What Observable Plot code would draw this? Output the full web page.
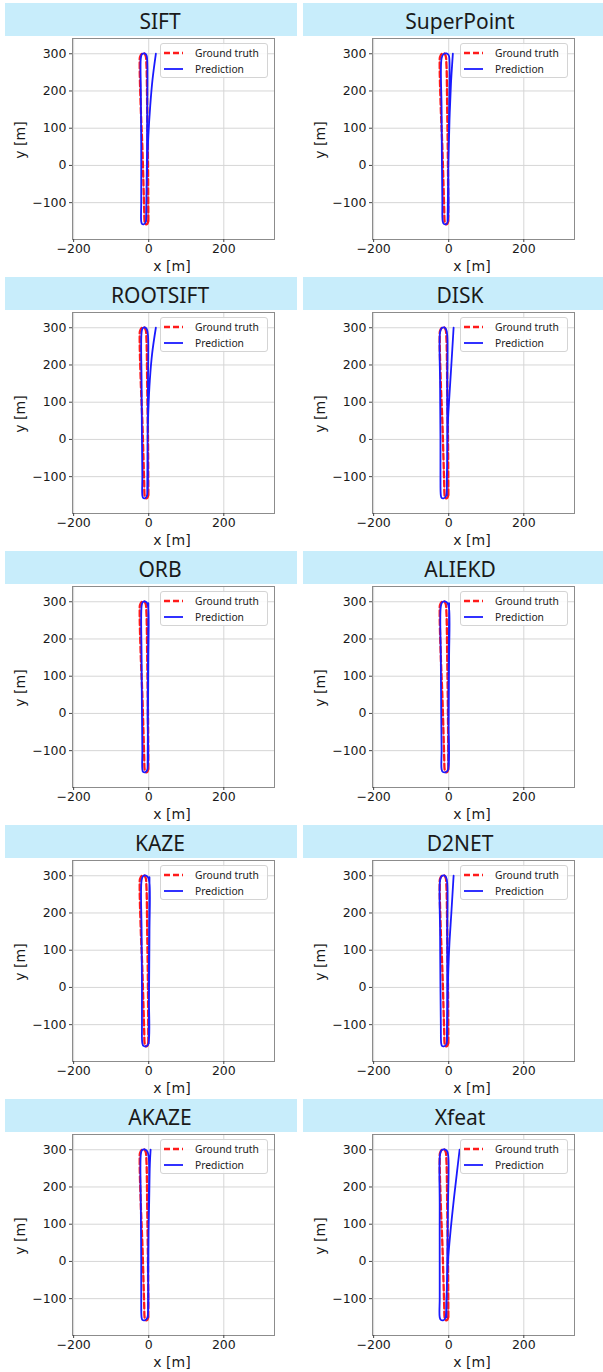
<!DOCTYPE html>
<html>
<head>
<meta charset="utf-8">
<script src="https://cdn.jsdelivr.net/npm/d3@7"></script>
<script src="https://cdn.jsdelivr.net/npm/@observablehq/plot@0.6"></script>
<style>
  html, body { margin: 0; padding: 0; background: #fff; }
  #root { position: relative; width: 603px; height: 1372px; overflow: hidden; background: #fff; }
  .band { position: absolute; height: 33px; background: #c8edfb; }
  .title { position: absolute; width: 240px; text-align: center; font-family: "Noto Sans", "Noto Sans CJK KR", sans-serif; font-size: 21px; color: #1a1a1a; line-height: 1; }
  .plotwrap { position: absolute; }
  .xlab, .ylab { position: absolute; font-family: "DejaVu Sans", sans-serif; font-size: 14px; color: #1a1a1a; line-height: 1; white-space: nowrap; }
  .legend { position: absolute; width: 106px; height: 33px; border: 1px solid #d4d4d4; border-radius: 3px; background: rgba(255,255,255,0.85); font-family: "Noto Sans", "Noto Sans CJK KR", sans-serif; font-size: 10.3px; color: #222; }
  .legend .row { position: absolute; left: 3px; height: 12px; display: flex; align-items: center; white-space: nowrap; }
  .legend .row svg { margin-right: 12px; }
</style>
</head>
<body>
<div id="root"></div>
<script>
// ---- data ----
const methods = ["SIFT", "SuperPoint", "ROOTSIFT", "DISK", "ORB", "ALIEKD", "KAZE", "D2NET", "AKAZE", "Xfeat"];
const xTicks = [-200, 0, 200];
const yTicks = [-100, 0, 100, 200, 300];

// ground truth trajectory (same for every method)
const gtX = [-1, -2, -4, -6, -8, -12, -18, -23, -24, -21, -17, -14, -12, -11, -9, -5, -2, -1];
const gtY = [-150, 0, 150, 270, 294, 301, 300, 292, 270, 150, 50, -50, -120, -150, -157, -158, -153, -140];

// predictions
const siftX = [-7, -5, -4, -4, -6, -11, -18, -21, -21, -20, -20, -20, -18, -13, -8, -6, -4, -1, 4, 10, 19];
const siftY = [-150, 0, 150, 280, 296, 301, 299, 288, 200, 50, -100, -150, -157, -158, -152, -100, 0, 80, 160, 230, 300];

const superpointX = [-3, -1, 1, 2, 0, -6, -14, -19, -19, -18, -17, -16, -13, -7, -3, -1, 2, 6, 9, 11];
const superpointY = [-150, 0, 150, 280, 296, 301, 299, 288, 150, 0, -100, -150, -157, -158, -152, 0, 120, 220, 270, 300];

const rootsiftX = [-4, -3, -2, -2, -5, -10, -16, -19, -19, -18, -17, -17, -15, -10, -5, -3, -1, 3, 9, 19];
const rootsiftY = [-150, 0, 150, 280, 296, 301, 299, 288, 150, 0, -100, -150, -157, -158, -152, 0, 80, 160, 230, 300];

const diskX = [-5, -4, -4, -4, -7, -12, -19, -23, -23, -22, -22, -21, -19, -13, -7, -5, -4, -2, 2, 7, 13];
const diskY = [-150, 0, 150, 280, 296, 301, 299, 288, 150, 0, -100, -150, -157, -158, -152, -100, -50, 50, 120, 200, 300];

const orbX = [-3, -2, -1, -1, -4, -10, -16, -19, -19, -18, -17, -17, -15, -9, -4, -3, -2, -1, -1];
const orbY = [-150, 0, 150, 280, 296, 301, 299, 288, 150, 0, -100, -150, -157, -158, -152, 0, 150, 280, 296];

const aliekdX = [-1, 0, 1, 1, -3, -10, -17, -21, -21, -20, -19, -19, -16, -8, -2, -1, 0, 1, 1];
const aliekdY = [-150, 0, 150, 280, 296, 301, 299, 288, 150, 0, -100, -150, -157, -158, -152, 0, 150, 280, 296];

const kazeX = [0, 1, 2, 2, -2, -9, -15, -19, -19, -18, -18, -17, -14, -6, -1, 0, 1, 2, 2];
const kazeY = [-150, 0, 150, 280, 296, 301, 299, 288, 150, 0, -100, -150, -157, -158, -152, 0, 150, 280, 296];

const d2netX = [-5, -4, -4, -4, -7, -12, -19, -23, -23, -22, -21, -20, -18, -12, -6, -4, -3, -1, 2, 7, 13];
const d2netY = [-150, 0, 150, 280, 296, 301, 299, 288, 150, 0, -100, -150, -157, -158, -152, -100, -50, 50, 120, 200, 300];

const akazeX = [-2, -1, 0, 0, -4, -11, -18, -21, -21, -20, -20, -19, -17, -10, -4, -2, 1, 3, 5];
const akazeY = [-150, 0, 150, 280, 296, 301, 299, 288, 150, 0, -100, -150, -157, -158, -152, 0, 150, 260, 300];

const xfeatX = [-6, -4, -2, -1, -4, -11, -19, -23, -24, -24, -24, -24, -21, -14, -9, -6, -2, 5, 14, 22, 29];
const xfeatY = [-150, 0, 150, 280, 296, 301, 299, 288, 150, 0, -100, -150, -157, -158, -152, -100, 0, 83, 170, 240, 300];

const predX = [siftX, superpointX, rootsiftX, diskX, orbX, aliekdX, kazeX, d2netX, akazeX, xfeatX];
const predY = [siftY, superpointY, rootsiftY, diskY, orbY, aliekdY, kazeY, d2netY, akazeY, xfeatY];

// ---- drawing ----
const root = document.getElementById("root");
const ROW = 274;
const gt = gtX.map((x, i) => ({x, y: gtY[i]}));

function el(cls, css, html) {
  const d = document.createElement("div");
  d.className = cls;
  Object.assign(d.style, css);
  if (html != null) d.innerHTML = html;
  root.appendChild(d);
  return d;
}

methods.forEach((name, k) => {
  const col = k % 2, row = Math.floor(k / 2);
  const left = col * 300, top = row * ROW;

  el("band", {left: (col === 0 ? 5 : 303) + "px", top: (top + 3) + "px", width: (col === 0 ? 292 : 300) + "px"});
  el("title", {left: (left + 40) + "px", top: (top + 11) + "px"}, name);

  const pred = predX[k].map((x, i) => ({x, y: predY[k][i]}));
  const chart = Plot.plot({
    width: 300, height: 240,
    marginLeft: 72, marginRight: 26, marginTop: 1, marginBottom: 38,
    style: {fontFamily: "DejaVu Sans", fontSize: "12.5px", color: "#1a1a1a", background: "transparent", overflow: "visible"},
    x: {domain: [-203, 335]},
    y: {domain: [-199, 341]},
    marks: [
      Plot.gridX(xTicks, {stroke: "#d6d6d6", strokeOpacity: 1}),
      Plot.gridY(yTicks, {stroke: "#d6d6d6", strokeOpacity: 1}),
      Plot.line(gt, {x: "x", y: "y", stroke: "#ff1a1a", strokeWidth: 2.3, strokeDasharray: "6,3", curve: "catmull-rom"}),
      Plot.line(pred, {x: "x", y: "y", stroke: "#1a1aff", strokeWidth: 1.8, curve: "catmull-rom"}),
      Plot.frame({stroke: "#8c8c8c"}),
      Plot.axisX(xTicks, {tickSize: 3, tickPadding: 2, label: null, stroke: "#444"}),
      Plot.axisY(yTicks, {tickSize: 3, tickPadding: 3, label: null, stroke: "#444"})
    ]
  });
  const wrap = el("plotwrap", {left: left + "px", top: (top + 37) + "px"});
  wrap.appendChild(chart);

  el("xlab", {left: (left + 172) + "px", top: (top + 259) + "px", transform: "translateX(-50%)"}, "x [m]");
  el("ylab", {left: (left + 20) + "px", top: (top + 140) + "px", transform: "translate(-50%,-50%) rotate(-90deg)"}, "y [m]");

  const lg = el("legend", {left: (left + 160) + "px", top: (top + 43) + "px"});
  lg.innerHTML =
    '<div class="row" style="top:3px"><svg width="19" height="6"><line x1="0" x2="19" y1="3" y2="3" stroke="#ff1a1a" stroke-width="2.3" stroke-dasharray="6,3"/></svg><span>Ground truth</span></div>' +
    '<div class="row" style="top:18.5px"><svg width="19" height="6"><line x1="0" x2="19" y1="3" y2="3" stroke="#1a1aff" stroke-width="1.8"/></svg><span>Prediction</span></div>';
});
</script>
</body>
</html>
